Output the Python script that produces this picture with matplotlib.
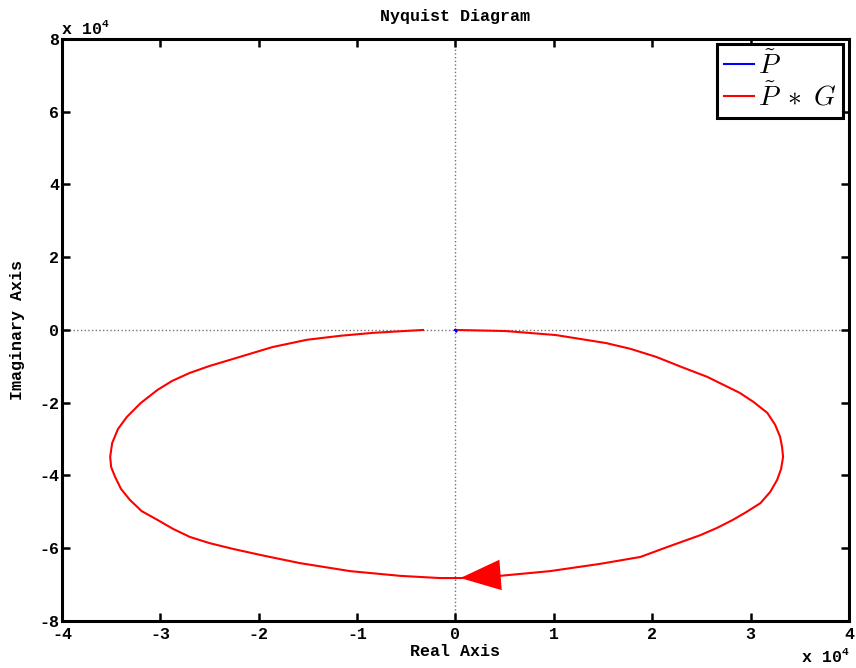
import matplotlib
matplotlib.use("Agg")
import matplotlib.pyplot as plt
import numpy as np
from matplotlib.ticker import FuncFormatter

plt.rcParams['font.family'] = ['Liberation Mono', 'DejaVu Sans Mono']
plt.rcParams['font.weight'] = 'bold'

# P~ : stays very close to the origin
p_re = np.array([0.0, 0.006, 0.012, 0.008, 0.0]) * 1e4
p_im = np.array([0.0, -0.01, -0.03, -0.05, 0.0]) * 1e4

# P~ * G (units of 1e4)
pg_re = np.array([0.0, 0.51, 1.02, 1.53, 1.78, 2.04, 2.30, 2.56, 2.89, 3.03,
                  3.17, 3.25, 3.30, 3.32, 3.33, 3.31, 3.27, 3.20, 3.10, 2.96,
                  2.82, 2.66, 2.49, 2.15, 1.88, 1.47, 0.96, 0.45, 0.05, -0.16,
                  -0.56, -1.07, -1.58, -1.94, -2.26, -2.50, -2.70, -2.87, -3.03, -3.19,
                  -3.31, -3.40, -3.46, -3.50, -3.51, -3.50, -3.49, -3.43, -3.34, -3.20,
                  -3.03, -2.88, -2.70, -2.50, -2.29, -1.86, -1.51, -1.17, -0.84, -0.33]) * 1e4
pg_im = np.array([0.0, -0.03, -0.14, -0.36, -0.52, -0.74, -1.02, -1.29, -1.73, -1.98,
                  -2.28, -2.61, -2.94, -3.22, -3.49, -3.82, -4.12, -4.45, -4.76, -5.00,
                  -5.22, -5.44, -5.64, -5.97, -6.24, -6.43, -6.63, -6.76, -6.82, -6.82,
                  -6.76, -6.63, -6.41, -6.21, -6.02, -5.86, -5.69, -5.47, -5.22, -4.98,
                  -4.67, -4.37, -4.04, -3.77, -3.49, -3.30, -3.11, -2.72, -2.39, -2.01,
                  -1.65, -1.40, -1.18, -0.99, -0.82, -0.47, -0.27, -0.16, -0.08, 0.0]) * 1e4

arrow_tip = 28   # index on the curve where the direction arrow points
arrow_tail = 26

xticks = np.arange(-4, 5) * 1e4
yticks = np.arange(-8, 9, 2) * 1e4

fig = plt.figure(figsize=(8.56, 6.68), dpi=100)
ax = fig.add_axes([0.0724, 0.0704, 0.9194, 0.8713])

ax.axhline(0, color='0.45', ls=':', lw=1.0, zorder=1)
ax.axvline(0, color='0.45', ls=':', lw=1.0, zorder=1)

ax.plot(p_re, p_im, color='blue', lw=1.5, label=r'$\tilde{P}$', zorder=3)
ax.plot(pg_re, pg_im, color='red', lw=1.5, label=r'$\tilde{P}\;\ast\;G$', zorder=2)

ax.annotate('', xy=(pg_re[arrow_tip], pg_im[arrow_tip]),
            xytext=(pg_re[arrow_tail], pg_im[arrow_tail]),
            arrowprops=dict(arrowstyle='-|>,head_length=2.9,head_width=1.1',
                            color='red', lw=0, shrinkA=0, shrinkB=0))

ax.set_xlim(-4e4, 4e4)
ax.set_ylim(-8e4, 8e4)
ax.set_xticks(xticks)
ax.set_yticks(yticks)
fmt = FuncFormatter(lambda v, pos: '%d' % round(v / 1e4))
ax.xaxis.set_major_formatter(fmt)
ax.yaxis.set_major_formatter(fmt)
ax.tick_params(direction='in', length=6, width=1.8, top=True, right=True,
               labelsize=12, pad=2)
ax.tick_params(axis='x', pad=4.5)
for lab in ax.get_xticklabels() + ax.get_yticklabels():
    lab.set_fontweight('bold')
for s in ax.spines.values():
    s.set_linewidth(2.2)

ax.set_title('Nyquist Diagram', fontsize=12, fontweight='bold', pad=13)
ax.set_xlabel('Real Axis', fontsize=12, fontweight='bold', labelpad=1)
ax.set_ylabel('Imaginary Axis', fontsize=12, fontweight='bold', labelpad=10)

# MATLAB style exponent labels
fig.text(62 / 856, 1 - 34 / 668, 'x 10', fontsize=12, fontweight='bold')
fig.text(102 / 856, 1 - 27 / 668, '4', fontsize=8, fontweight='bold')
fig.text(802 / 856, 1 - 662 / 668, 'x 10', fontsize=12, fontweight='bold')
fig.text(842 / 856, 1 - 655 / 668, '4', fontsize=8, fontweight='bold')

leg = ax.legend(loc='upper right', fontsize=20, fancybox=False, framealpha=1,
                edgecolor='black', borderaxespad=0.2, handlelength=1.1,
                handletextpad=0.15, borderpad=0.25, labelspacing=0.1)
leg.get_frame().set_linewidth(2.2)
for t in leg.get_texts():
    t.set_math_fontfamily('cm')

fig.savefig('out.png', dpi=100)
